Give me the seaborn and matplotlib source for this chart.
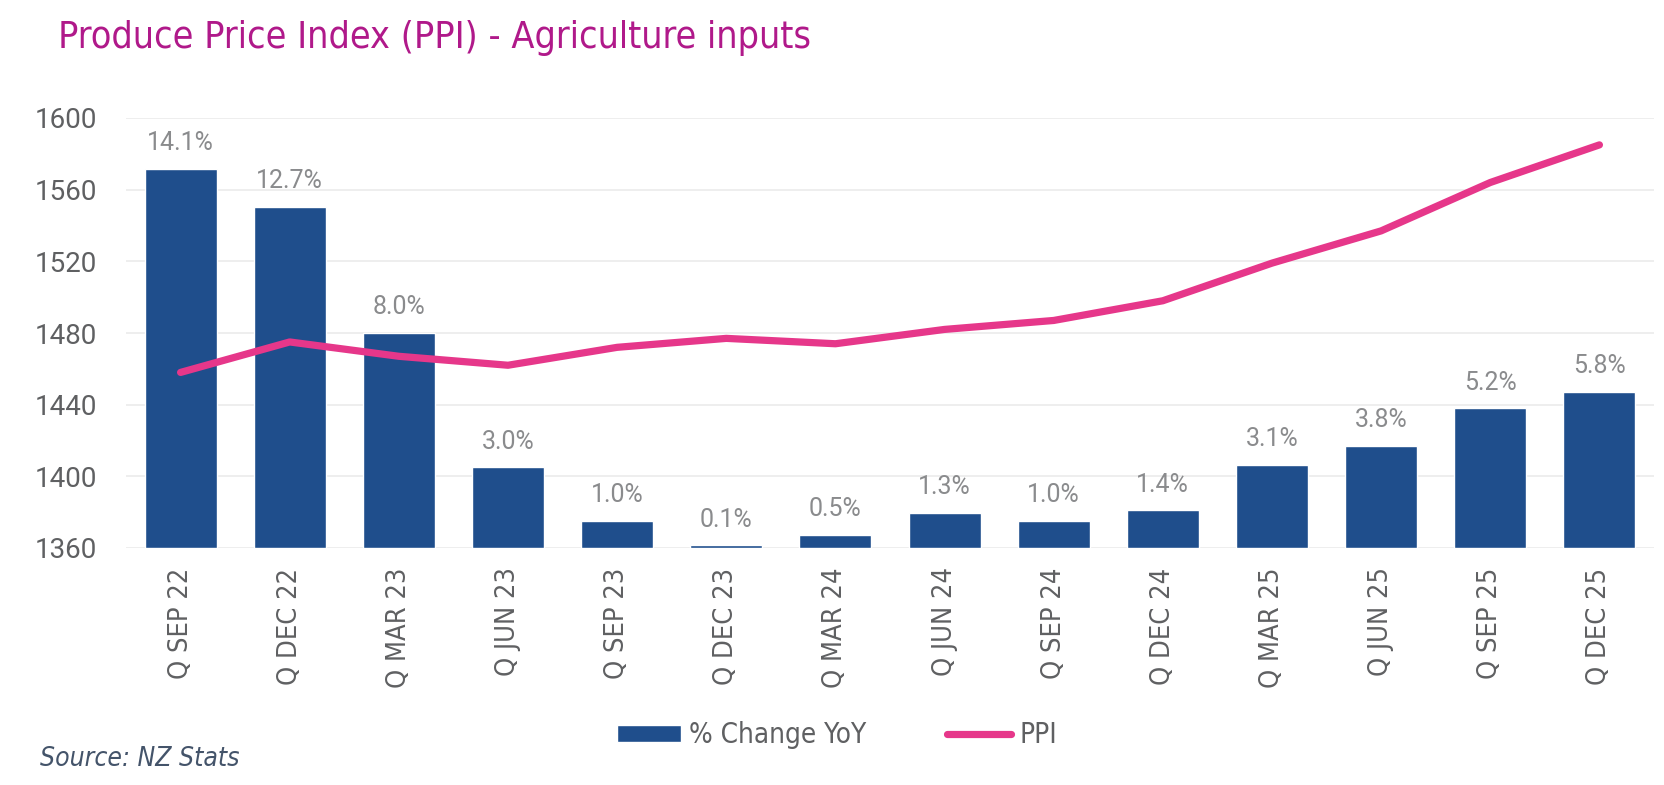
import numpy as np
import pandas as pd
import matplotlib
matplotlib.use("Agg")
import matplotlib.pyplot as plt
import seaborn as sns
from matplotlib import font_manager as fm

# ---- data ----
quarters = ["Q SEP 22", "Q DEC 22", "Q MAR 23", "Q JUN 23", "Q SEP 23", "Q DEC 23",
            "Q MAR 24", "Q JUN 24", "Q SEP 24", "Q DEC 24", "Q MAR 25", "Q JUN 25",
            "Q SEP 25", "Q DEC 25"]
pct_change = [14.1, 12.7, 8.0, 3.0, 1.0, 0.1, 0.5, 1.3, 1.0, 1.4, 3.1, 3.8, 5.2, 5.8]
ppi = [1458, 1475, 1467, 1462, 1472, 1477, 1474, 1482, 1487, 1498, 1519, 1537, 1564, 1585]
ppi_ticks = [1360, 1400, 1440, 1480, 1520, 1560, 1600]

title = "Produce Price Index (PPI) - Agriculture inputs"
source = "Source: NZ Stats"

df = pd.DataFrame({"quarter": quarters, "pct": pct_change, "ppi": ppi})

sns.set_theme(style="white")

names = {f.name for f in fm.fontManager.ttflist}
if "Liberation Sans Narrow" in names:
    NARROW = ["Liberation Sans Narrow", "DejaVu Sans"]
    NARROW_STRETCH = "normal"
else:
    NARROW = ["DejaVu Sans"]
    NARROW_STRETCH = "condensed"
NUM = ["Roboto", "DejaVu Sans"]
plt.rcParams["font.family"] = NARROW

BAR = "#1F4E8C"
LINE = "#E6378A"
TITLE_C = "#B0198A"
TICK_C = "#5F6062"
LABEL_C = "#8A8B8D"
GRID_C = "#EDEDED"

fig = plt.figure(figsize=(16.64, 7.85), dpi=100)
ax = fig.add_axes([126 / 1664, 1 - 548 / 785, (1654 - 126) / 1664, (548 - 118) / 785])

# bars on primary axis (0-16 %), which carries the gridlines behind the bars
sns.barplot(data=df, x="quarter", y="pct", color=BAR, saturation=1, width=0.66,
            ax=ax, label="% Change YoY", zorder=2)
ax.set_ylim(0, 16)
ax.set_xlim(-0.5, len(quarters) - 0.5)
ax.set_yticks(np.linspace(0, 16, len(ppi_ticks)))
ax.yaxis.grid(True, color=GRID_C, linewidth=1.3, zorder=0)
ax.set_axisbelow(True)
ax.tick_params(axis="y", which="both", left=False, right=False, labelleft=False, length=0)
ax.tick_params(axis="x", length=0, pad=14, labelsize=19.5, labelcolor=TICK_C)
for lab in ax.get_xticklabels():
    lab.set_rotation(90)
    lab.set_family(NARROW)
    lab.set_stretch(NARROW_STRETCH)
ax.set_xlabel("")
ax.set_ylabel("")
for s in ax.spines.values():
    s.set_visible(False)

# data labels
for i, v in enumerate(pct_change):
    ax.annotate(f"{v:.1f}%", xy=(i, v), xytext=(0, 13.5), textcoords="offset points",
                ha="center", va="baseline", fontsize=18, color=LABEL_C, family=NUM)

# line on twin axis with labels on the left
ax2 = ax.twinx()
sns.lineplot(data=df, x="quarter", y="ppi", color=LINE, linewidth=5.2, sort=False,
             ax=ax2, label="PPI", zorder=3)
for ln in ax2.lines:
    ln.set_solid_capstyle("round")
ax2.set_ylim(1360, 1600)
ax2.set_yticks(ppi_ticks)
ax2.yaxis.tick_left()
ax2.tick_params(axis="y", which="both", length=0, left=False, right=False, pad=21,
                labelsize=20, labelcolor=TICK_C)
for lab in ax2.get_yticklabels():
    lab.set_family(NUM)
ax2.grid(False)
ax2.set_xlabel("")
ax2.set_ylabel("")
for s in ax2.spines.values():
    s.set_visible(False)

h1, l1 = ax.get_legend_handles_labels()
h2, l2 = ax2.get_legend_handles_labels()
for a in (ax, ax2):
    if a.get_legend() is not None:
        a.get_legend().remove()

leg = fig.legend(h1 + h2, l1 + l2, loc="center", bbox_to_anchor=(0.503, 1 - 735 / 785),
                 ncol=2, frameon=False, handlelength=2.3, handleheight=0.57,
                 handletextpad=0.3, columnspacing=2.9,
                 prop={"family": NARROW, "size": 20, "stretch": NARROW_STRETCH})
for t in leg.get_texts():
    t.set_color(TICK_C)

fig.text(58 / 1664, 1 - 48 / 785, title, color=TITLE_C, fontsize=27, va="baseline",
         ha="left", family=NARROW, stretch=NARROW_STRETCH)
fig.text(40 / 1664, 1 - 766 / 785, source, color="#44546A", fontsize=19, style="italic",
         va="baseline", ha="left", family=NARROW, stretch=NARROW_STRETCH)

fig.savefig("out.png", dpi=100)
